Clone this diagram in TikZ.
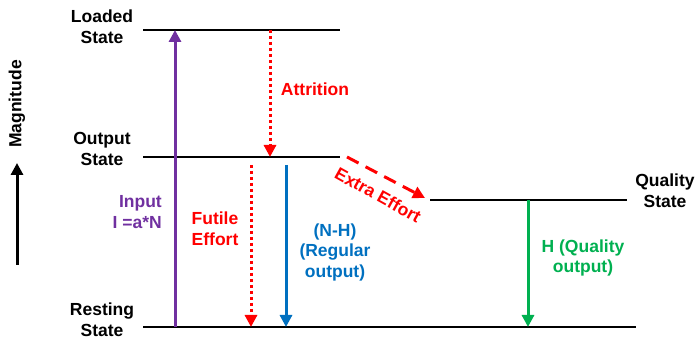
\documentclass[tikz,border=0pt]{standalone}
\usepackage{fontspec}
\setmainfont{Liberation Sans}
\usetikzlibrary{arrows.meta}
\definecolor{inpurple}{RGB}{112,48,160}
\definecolor{effred}{RGB}{255,0,0}
\definecolor{regblue}{RGB}{0,112,192}
\definecolor{qualgreen}{RGB}{0,176,80}
\begin{document}
\begin{tikzpicture}[x=1pt,y=1pt,
  level/.style={line width=2pt},
  flow/.style={line width=3pt,-{Triangle[length=12pt,width=12pt]}},
  dotflow/.style={flow,dash pattern=on 3pt off 3pt},
  dashflow/.style={flow,dash pattern=on 13pt off 8pt},
  lbl/.style={font=\fontsize{17.5}{20.5}\selectfont\bfseries,align=center,inner sep=0pt}]
\useasboundingbox (0,0) rectangle (697,344);

\coordinate (loadL) at (143,314); \coordinate (loadR) at (340,314);
\coordinate (outL) at (143,187); \coordinate (outR) at (340,187);
\coordinate (restL) at (143,17); \coordinate (restR) at (636,17);
\coordinate (qualL) at (430,144); \coordinate (qualR) at (627,144);

\draw[level] (loadL) -- (loadR);
\draw[level] (outL) -- (outR);
\draw[level] (restL) -- (restR);
\draw[level] (qualL) -- (qualR);

\node[lbl] (loaded) at (102,317) {Loaded\\State};
\node[lbl] (output) at (102,195) {Output\\State};
\node[lbl] (resting) at (102,24) {Resting\\State};
\node[lbl] (quality) at (665,153) {Quality\\State};

\coordinate (inBot) at (175,17); \coordinate (inTop) at (175,314);
\coordinate (attTop) at (270,314); \coordinate (attBot) at (270,187);
\coordinate (futTop) at (251,179); \coordinate (futBot) at (251,17);
\coordinate (regTop) at (286,179); \coordinate (regBot) at (286,17);
\coordinate (hTop) at (528,144); \coordinate (hBot) at (528,17);
\coordinate (extA) at (347,187); \coordinate (extB) at (425,146);
\coordinate (magBot) at (17,79); \coordinate (magTop) at (17,181);

\draw[flow,inpurple] (inBot) -- (inTop);
\draw[dotflow,effred] (attTop) -- (attBot);
\draw[dotflow,effred] (futTop) -- (futBot);
\draw[flow,regblue] (regTop) -- (regBot);
\draw[flow,qualgreen] (hTop) -- (hBot);
\draw[dashflow,effred] (extA) -- (extB);
\draw[flow,black] (magBot) -- (magTop);

\node[lbl,inpurple,anchor=east,align=right] (input) at (162,132) {Input\\I =a*N};
\node[lbl,effred] (attrition) at (315,255) {Attrition};
\node[lbl,effred] (futile) at (215,115) {Futile\\Effort};
\node[lbl,regblue] (regular) at (335,92) {(N-H)\\(Regular\\output)};
\node[lbl,qualgreen] (hqual) at (583,86) {H (Quality\\output)};
\node[lbl,effred,rotate=-29] (extra) at (378,149) {Extra Effort};
\node[lbl,rotate=90] (magnitude) at (17,240) {Magnitude};
\end{tikzpicture}
\end{document}
